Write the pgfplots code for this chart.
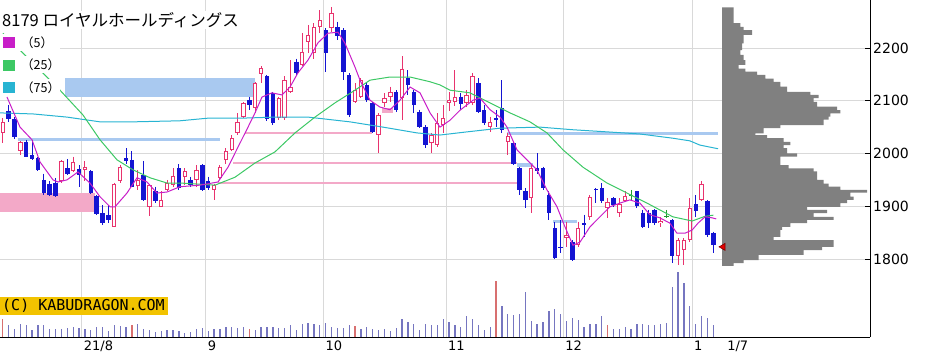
\documentclass[border=0pt]{standalone}
\usepackage{pgfplots}
\pgfplotsset{compat=1.18}
\usepackage{pgfplotstable}
\usepackage{fontspec}
\setmainfont{DejaVu Sans}
\newfontfamily\jp{Noto Sans CJK JP}
\newfontfamily\monofont{DejaVu Sans Mono}

\definecolor{cblue}{HTML}{1414D2}
\definecolor{cpink}{HTML}{E8336E}
\definecolor{cgreen}{HTML}{209A30}
\definecolor{ma5}{HTML}{C81EC8}
\definecolor{ma25}{HTML}{3CC864}
\definecolor{ma75}{HTML}{28B4D2}
\definecolor{vblue}{HTML}{7676C0}
\definecolor{vred}{HTML}{D87070}
\definecolor{gridc}{HTML}{D9D9D9}
\definecolor{bandblue}{HTML}{A9C9F0}
\definecolor{bandpink}{HTML}{F3A9C8}
\definecolor{profgray}{HTML}{808080}
\definecolor{cryel}{HTML}{F2C300}

\pgfplotsset{candle/.style={draw=none, mark=none, forget plot,
  error bars/.cd, y dir=minus, y explicit, error mark=none}}

% OHLC: up (close > open)
\pgfplotstableread{
i o h l c
0 2038 2067 2019 2060
3 2005 2024 1997 2022
10 1947 1988 1945 1986
12 1966 1994 1964 1984
14 1969 1986 1948 1975
19 1861 1945 1860 1943
20 1947 1978 1945 1975
23 1938 1969 1931 1950
25 1899 1942 1882 1940
27 1899 1928 1898 1911
28 1931 1950 1928 1944
29 1940 1972 1937 1957
31 1956 1972 1940 1966
33 1950 1978 1937 1969
36 1930 1943 1912 1940
37 1953 1978 1950 1975
38 1988 2010 1981 2004
39 2007 2035 2004 2029
40 2038 2076 2035 2060
41 2070 2098 2067 2095
43 2086 2136 2076 2133
44 2151 2165 2133 2162
47 2067 2108 2064 2105
48 2067 2146 2064 2139
49 2117 2177 2114 2127
51 2168 2228 2165 2193
52 2212 2244 2190 2225
53 2190 2247 2180 2240
54 2240 2272 2228 2253
56 2237 2278 2231 2266
60 2098 2133 2095 2120
61 2108 2143 2105 2139
64 2035 2076 2000 2073
65 2095 2114 2089 2105
66 2108 2127 2098 2117
68 2105 2184 2064 2161
73 2019 2038 2000 2035
74 2016 2076 2013 2057
75 2054 2092 2038 2067
76 2095 2117 2080 2102
77 2098 2158 2090 2108
79 2095 2120 2088 2111
80 2095 2153 2092 2146
83 2051 2070 2041 2060
86 2022 2038 1997 2033
90 1915 1978 1887 1972
96 1839 1871 1823 1846
98 1827 1871 1823 1858
100 1880 1921 1874 1918
103 1896 1915 1877 1908
105 1887 1915 1880 1904
106 1910 1928 1909 1920
112 1868 1880 1861 1872
115 1805 1839 1789 1836
116 1817 1839 1789 1836
117 1836 1915 1833 1896
119 1912 1947 1909 1943
}\upc

% OHLC: down (close < open)
\pgfplotstableread{
i o h l c
1 2081 2092 2060 2065
2 2065 2070 2027 2031
4 2022 2026 1993 1994
5 1997 2026 1987 1989
6 1992 1994 1967 1969
7 1950 1962 1921 1925
8 1943 1947 1919 1921
9 1945 1953 1918 1920
11 1972 1989 1959 1962
13 1970 1978 1937 1959
15 1966 1969 1923 1925
16 1920 1921 1883 1885
17 1887 1902 1864 1868
18 1883 1902 1869 1873
21 1991 2010 1981 1985
22 1988 2004 1936 1937
24 1959 1986 1909 1912
26 1928 1937 1906 1909
30 1972 1980 1930 1935
32 1950 1956 1937 1940
34 1978 1980 1928 1931
35 1947 1956 1931 1934
42 2101 2108 2083 2092
45 2146 2149 2062 2065
46 2115 2117 2054 2057
50 2174 2180 2146 2152
55 2234 2237 2155 2190
57 2240 2250 2215 2222
58 2234 2237 2139 2155
59 2149 2152 2070 2073
62 2130 2133 2098 2101
63 2095 2098 2038 2041
67 2117 2120 2079 2083
69 2143 2158 2111 2130
70 2117 2120 2076 2092
71 2079 2083 2048 2051
72 2051 2054 2010 2016
78 2108 2114 2083 2094
81 2133 2143 2076 2079
82 2082 2092 2054 2058
84 2067 2082 2051 2063
85 2086 2139 2038 2045
87 2019 2022 1978 1981
88 1972 1975 1921 1931
89 1928 1934 1896 1912
91 1972 2000 1962 1966
92 1972 1975 1931 1934
93 1921 1928 1874 1887
94 1858 1870 1800 1802
95 1823 1874 1811 1820
97 1833 1836 1797 1799
99 1868 1884 1842 1865
101 1932 1934 1906 1930
102 1934 1944 1906 1909
104 1915 1918 1899 1903
108 1928 1929 1896 1900
109 1888 1893 1858 1860
110 1888 1893 1858 1868
111 1893 1894 1864 1868
114 1874 1876 1792 1805
118 1904 1921 1880 1891
120 1909 1912 1842 1846
121 1849 1852 1811 1826
}\dnc

% OHLC: doji (open = close)
\pgfplotstableread{
i o h l c
107 1921 1931 1912 1921
113 1881 1893 1877 1881
}\djc

% volume (relative bar heights), blue days
\pgfplotstableread{
i v
1 12
2 8
3 13
4 12
5 7
6 12
7 12
8 8
9 8
10 8
11 9
12 10
13 9
14 8
15 7
16 10
17 10
18 6
19 12
20 11
21 10
23 13
24 8
25 7
26 5
27 6
28 7
29 7
30 6
31 4
32 5
33 8
34 9
35 6
36 8
37 8
38 10
39 10
40 9
41 10
43 7
44 10
45 10
46 10
47 9
48 9
49 12
50 7
51 13
52 14
53 13
54 12
55 14
56 10
57 9
58 9
59 12
61 8.3
62 10
63 8.3
64 7.3
65 8.3
66 5.7
67 9
68 17.7
69 15
70 13.3
71 7.3
72 13.3
73 12.3
74 12.3
75 17.7
76 15
77 11.7
78 10
79 20.7
80 17.7
81 11.7
82 7.3
83 10
85 30.7
86 23.3
87 21.7
88 23.3
89 45
90 15.7
91 13.3
92 15
93 26
94 27.7
95 23.3
96 15.7
97 19
98 17.3
99 10
100 12.7
101 12.7
102 20.7
104 8.3
105 8.3
106 10
107 8.3
108 12.7
109 12.7
110 11.7
111 11.7
112 12.7
113 14.3
114 50
115 65
116 54.3
117 30.7
118 12.7
119 20.7
120 19
121 11.7
}\volb

% volume, red days
\pgfplotstableread{
i v
0 18
22 12
42 8
60 11
84 55.7
103 11.7
}\volr

\begin{document}
\begin{tikzpicture}[x=1pt,y=1pt]
\useasboundingbox (0,0) rectangle (934,360);

% ---------------- price axis ----------------
\begin{axis}[
  at={(0pt,23pt)}, anchor=south west, scale only axis,
  width=870pt, height=337pt,
  xmin=-0.46, xmax=147.68, ymin=1652.1, ymax=2291,
  axis x line*=bottom, axis y line*=right,
  axis line style={black, line width=1pt},
  ytick={1800,1900,2000,2100,2200},
  yticklabels={1800,1900,2000,2100,2200},
  xtick={13.45,34.56,54.59,75.48,95.45,117.37},
  xticklabels={21/8,9,10,11,12,1},
  extra x ticks={123.0}, extra x tick labels={1/7},
  extra x tick style={grid=none, xtick style={draw=none}},
  xmajorgrids, ymajorgrids,
  grid style={gridc, line width=0.9pt},
  xtick style={draw=none},
  ytick style={black, line width=0.8pt},
  tick align=inside, major tick length=5pt,
  yticklabel style={anchor=west, inner sep=0pt, xshift=3pt, font=\fontsize{14}{14}\selectfont},
  xticklabel style={anchor=north west, inner sep=0pt, xshift=2pt, yshift=-4pt, font=\fontsize{13}{13}\selectfont},
  clip=true,
]
% zones and levels
\addplot[fill=bandblue, draw=none, forget plot] coordinates {(10.6,2107) (42.96,2107) (42.96,2143) (10.6,2143)} -- cycle;
\addplot[fill=bandpink, draw=none, forget plot] coordinates {(-0.46,1889) (15.7,1889) (15.7,1925) (-0.46,1925)} -- cycle;
\addplot[bandblue, line width=3pt, forget plot] coordinates {(2.6,2026) (37,2026)};
\addplot[bandblue, line width=3pt, forget plot] coordinates {(85.9,2037) (121.8,2037)};
\addplot[bandpink, line width=2pt, forget plot] coordinates {(41.3,2039) (62.9,2039)};
\addplot[bandpink, line width=2.5pt, forget plot] coordinates {(39.2,1982) (87.6,1982)};
\addplot[bandpink, line width=1.2pt, forget plot] coordinates {(36.7,1944) (87.6,1944)};
\addplot[fill=bandpink, draw=none, forget plot] coordinates {(64.6,2077) (66.5,2077) (66.5,2086) (64.6,2086)} -- cycle;
\addplot[fill=bandblue, draw=none, forget plot] coordinates {(87.6,1974) (90.3,1974) (90.3,1982) (87.6,1982)} -- cycle;
\addplot[fill=bandblue, draw=none, forget plot] coordinates {(93.7,1868) (97.8,1868) (97.8,1874) (93.7,1874)} -- cycle;

% wicks
\addplot[candle, error bar style={draw=cpink, line width=1pt}]
  table[x=i, y=h, y error expr={\thisrow{h}-\thisrow{l}}] {\upc};
\addplot[candle, error bar style={draw=cblue, line width=1pt}]
  table[x=i, y=h, y error expr={\thisrow{h}-\thisrow{l}}] {\dnc};
\addplot[candle, error bar style={draw=cgreen, line width=1pt}]
  table[x=i, y=h, y error expr={\thisrow{h}-\thisrow{l}}] {\djc};
% bodies
\addplot[candle, error bar style={draw=cpink, line width=4.4pt}]
  table[x=i, y=c, y error expr={max(\thisrow{c}-\thisrow{o},1.5)}] {\upc};
\addplot[candle, error bar style={draw=white, line width=2.4pt}]
  table[x=i, y expr={\thisrow{c}-1.9}, y error expr={max(\thisrow{c}-\thisrow{o}-3.8,0)}] {\upc};
\addplot[candle, error bar style={draw=cblue, line width=4.4pt}]
  table[x=i, y=o, y error expr={max(\thisrow{o}-\thisrow{c},1.5)}] {\dnc};
\addplot[candle, error bar style={draw=cgreen, line width=4.4pt}]
  table[x=i, y expr={\thisrow{c}+1}, y error expr=2] {\djc};

% moving averages
\addplot[ma75, line width=1pt, forget plot] coordinates {
(-0.46,2077) (5.16,2075) (10.95,2069) (16.57,2060) (22.19,2060) (30.19,2062) (34.96,2067) (40.75,2067)
(46.36,2069) (51.98,2069) (59.13,2060) (64.76,2050) (70.55,2039) (74.46,2035) (79.06,2041) (84.68,2048)
(91.48,2050) (97.1,2045) (102.9,2041) (108.5,2037) (114.1,2029) (117.0,2024) (118.7,2016) (121.8,2009)};
\addplot[ma25, line width=1pt, forget plot] coordinates {
(0.05,2228) (3.29,2192) (9.76,2120) (13.67,2073) (16.57,2026) (19.46,1988) (22.19,1969) (25.08,1954)
(27.98,1944) (30.19,1944) (36.15,1940) (39.55,1955) (42.96,1982) (46.36,2003) (49.77,2039) (53.17,2069)
(56.58,2096) (59.98,2120) (62.54,2139) (65.95,2145) (69.36,2145) (72.76,2136) (74.46,2130) (76.16,2120)
(79.57,2115) (82.98,2096) (86.38,2077) (89.78,2060) (92.68,2039) (95.4,2007) (98.81,1974) (102.9,1944)
(106.3,1925) (109.7,1906) (114.1,1880) (117.4,1872) (119.6,1881) (121,1883)};
\addplot[ma5, line width=1pt, forget plot] coordinates {
(0.73,2107) (2.95,2050) (4.99,2026) (6.35,1984) (8.56,1950) (9.42,1946) (10.95,1950) (12.82,1965)
(14.86,1944) (16.57,1918) (18.27,1899) (19.12,1899) (21.16,1925) (22.87,1954) (24.57,1946) (26.27,1925)
(27.98,1927) (30.19,1937) (33.6,1940) (36.66,1946) (38.36,1974) (40.06,2012) (41.77,2050) (42.96,2077)
(44.15,2107) (45.85,2115) (47.55,2111) (48.92,2126) (50.28,2153) (51.98,2177) (53.69,2210) (55.39,2228)
(57.09,2230) (58.28,2209) (59.98,2164) (60.84,2139) (62.54,2101) (64.24,2088) (65.95,2083) (67.65,2101)
(69.36,2126) (71.06,2115) (72.76,2077) (74.46,2050) (76.16,2063) (77.87,2082) (80.08,2101) (81.27,2105)
(82.98,2083) (84.68,2069) (85.87,2050) (87.57,2007) (89.27,1988) (90.97,1969) (92.68,1931) (94.38,1899)
(95.74,1861) (97.1,1826) (98.3,1832) (100.0,1861) (101.7,1880) (103.4,1899) (105.1,1906) (106.8,1912)
(108.5,1906) (110.2,1884) (111.9,1878) (113.6,1868) (114.8,1849) (116.2,1849) (117.4,1855) (118.4,1868)
(119.6,1880) (120.8,1878) (121.5,1876)};
\end{axis}

% ---------------- volume ----------------
\begin{axis}[
  at={(0pt,23pt)}, anchor=south west, scale only axis,
  width=870pt, height=337pt,
  xmin=-0.46, xmax=147.68, ymin=0, ymax=337,
  hide axis,
]
\addplot[ycomb, vblue, line width=1.3pt, mark=none] table[x=i, y=v] {\volb};
\addplot[ycomb, vred, line width=1.3pt, mark=none] table[x=i, y=v] {\volr};
\end{axis}

% ---------------- price-volume profile ----------------
\begin{axis}[
  at={(0pt,23pt)}, anchor=south west, scale only axis,
  width=870pt, height=337pt,
  xmin=-722, xmax=148, ymin=1652.1, ymax=2291,
  hide axis,
]
\addplot[fill=profgray, draw=none] coordinates {
(0,2277) (11.7,2277) (11.7,2247) (18.3,2247) (18.3,2240) (21.7,2240) (21.7,2234) (30,2234) (30,2225)
(21.7,2225) (21.7,2209) (20,2209) (20,2196) (18.3,2196) (18.3,2187) (21.7,2187) (21.7,2177) (23.3,2177)
(23.3,2168) (16.7,2168) (16.7,2161) (23.3,2161) (23.3,2155) (35,2155) (35,2149) (43.3,2149) (43.3,2142)
(51.7,2142) (51.7,2136) (58.3,2136) (58.3,2127) (65,2127) (65,2117) (88.3,2117) (88.3,2111) (96.7,2111)
(96.7,2105) (91.7,2105) (91.7,2098) (95,2098) (95,2089) (115,2089) (115,2082) (118.3,2082) (118.3,2076)
(108.3,2076) (108.3,2070) (106.7,2070) (106.7,2064) (101.7,2064) (101.7,2054) (58.3,2054) (58.3,2048)
(41.7,2048) (41.7,2038) (33.3,2038) (33.3,2035) (45,2035) (45,2029) (61.7,2029) (61.7,2022) (68.3,2022)
(68.3,2016) (61.7,2016) (61.7,2010) (65,2010) (65,2000) (75,2000) (75,1994) (58.3,1994) (58.3,1978)
(66.7,1978) (66.7,1972) (91.7,1972) (91.7,1966) (95,1966) (95,1950) (101.7,1950) (101.7,1943) (106.7,1943)
(106.7,1937) (118.3,1937) (118.3,1931) (145,1931) (145,1926) (128.3,1926) (128.3,1918) (131.7,1918)
(131.7,1912) (125,1912) (125,1906) (118.3,1906) (118.3,1899) (85,1899) (85,1893) (105,1893) (105,1887)
(91.7,1887) (91.7,1880) (111.7,1880) (111.7,1874) (85,1874) (85,1868) (68.3,1868) (68.3,1861) (60,1861)
(60,1855) (58.3,1855) (58.3,1842) (51.7,1842) (51.7,1836) (111.7,1836) (111.7,1823) (100,1823) (100,1817)
(81.7,1817) (81.7,1808) (36.7,1808) (36.7,1798) (21.7,1798) (21.7,1792) (11.7,1792) (11.7,1787) (0,1787)} -- cycle;
\addplot[only marks, mark=triangle*, mark size=4pt, mark options={rotate=90, fill=red!90!black, draw=red!50!black, line width=0.6pt}] coordinates {(1,1823)};
\end{axis}

% ---------------- title, legend, credit ----------------
\node[anchor=west, fill=white, inner sep=1pt, font=\jp\fontsize{16.5}{16.5}\selectfont] at (1,340) {8179 ロイヤルホールディングス};
\fill[white] (0,309) rectangle (60,326);
\fill[white] (0,287) rectangle (60,304);
\fill[white] (0,264) rectangle (60,281);
\fill[ma5] (2.7,311.7) rectangle (15,322.7);
\fill[ma25] (2.7,289.3) rectangle (15,300);
\fill[ma75] (2.7,267.3) rectangle (15,278.3);
\node[anchor=west, inner sep=0pt, font=\jp\fontsize{12.5}{12.5}\selectfont] at (21,317) {（5）};
\node[anchor=west, inner sep=0pt, font=\jp\fontsize{12.5}{12.5}\selectfont] at (21,295) {（25）};
\node[anchor=west, inner sep=0pt, font=\jp\fontsize{12.5}{12.5}\selectfont] at (21,272.7) {（75）};
\fill[cryel] (0,45) rectangle (168,63);
\node[anchor=west, inner sep=0pt, font=\monofont\fontsize{15}{15}\selectfont] at (2,54) {(C) KABUDRAGON.COM};
\end{tikzpicture}
\end{document}
